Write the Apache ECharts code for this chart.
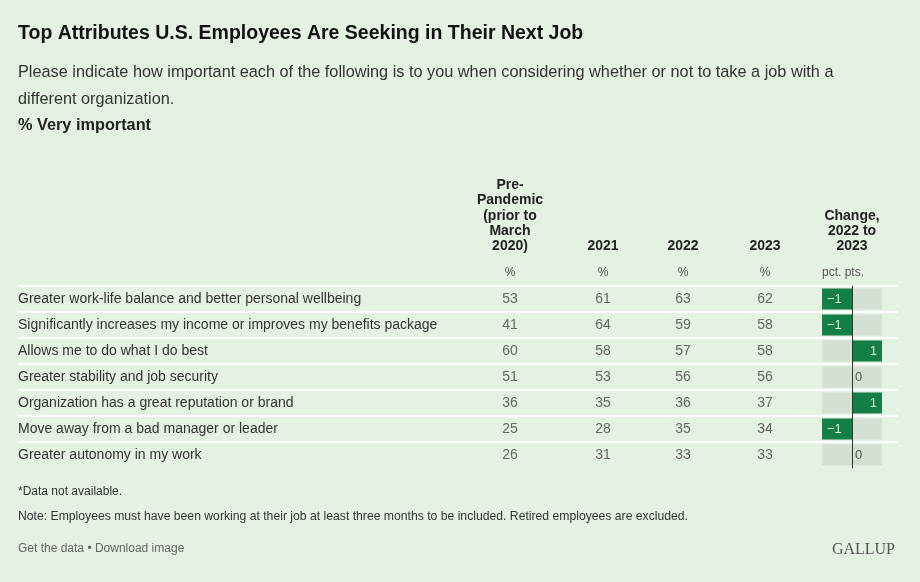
<!DOCTYPE html>
<html>
<head>
<meta charset="utf-8">
<script src="https://cdn.jsdelivr.net/npm/echarts@6/dist/echarts.min.js"></script>
<style>
html, body { margin: 0; padding: 0; background: #e4f2e1; }
#main { width: 920px; height: 582px; }
</style>
</head>
<body>
<div id="main"></div>
<script>
var rows = [
    'Greater work-life balance and better personal wellbeing',
    'Significantly increases my income or improves my benefits package',
    'Allows me to do what I do best',
    'Greater stability and job security',
    'Organization has a great reputation or brand',
    'Move away from a bad manager or leader',
    'Greater autonomy in my work'
];
var columnHeads = ['Pre-\nPandemic\n(prior to\nMarch\n2020)', '2021', '2022', '2023'];
var prePandemic = [53, 41, 60, 51, 36, 25, 26];
var y2021 = [61, 64, 58, 53, 35, 28, 31];
var y2022 = [63, 59, 57, 56, 36, 35, 33];
var y2023 = [62, 58, 58, 56, 37, 34, 33];
var change = [-1, -1, 1, 0, 1, -1, 0];

var dom = document.getElementById('main');
var myChart = echarts.init(dom);

var font = 'Liberation Sans';
var tableTop = 286;
var tableHeight = 182;
var colLeft = [470, 563, 643, 725];
var colValues = [prePandemic, y2021, y2022, y2023];

var headStyle = { fontWeight: 'bold', fontSize: 14, lineHeight: 15.3, color: '#222', fontFamily: font };

var grids = [{ left: 18, right: 22, top: tableTop, height: tableHeight }];
var xAxes = [{ type: 'value', gridIndex: 0, show: false }];
var yAxes = [{
    type: 'category',
    gridIndex: 0,
    data: rows,
    inverse: true,
    axisLine: { show: false },
    axisTick: { show: false },
    axisLabel: { align: 'left', margin: 0, color: '#333', fontSize: 14, fontFamily: font },
    splitLine: { show: true, showMaxLine: false, lineStyle: { color: '#ffffff', width: 2 } }
}];
var series = [];

colValues.forEach(function (vals, i) {
    var g = i + 1;
    grids.push({ left: colLeft[i], top: tableTop, width: 80, height: tableHeight });
    xAxes.push({
        type: 'category',
        gridIndex: g,
        position: 'top',
        data: [columnHeads[i]],
        axisLine: { show: false },
        axisTick: { show: false },
        axisLabel: { formatter: '%', margin: 7, color: '#555', fontSize: 12, fontFamily: font },
        name: columnHeads[i],
        nameLocation: 'middle',
        nameGap: 32,
        nameTextStyle: headStyle
    });
    yAxes.push({ type: 'category', gridIndex: g, data: rows, inverse: true, show: false });
    series.push({
        type: 'scatter',
        xAxisIndex: g,
        yAxisIndex: g,
        symbolSize: 1,
        itemStyle: { color: 'rgba(0,0,0,0)' },
        silent: true,
        label: {
            show: true,
            position: 'inside',
            formatter: function (p) { return p.value[2]; },
            color: '#444',
            fontSize: 14,
            fontFamily: font
        },
        data: vals.map(function (v, j) { return [0, j, v]; })
    });
});

// change column
var cg = grids.length;
grids.push({ left: 822, top: tableTop, width: 60, height: tableHeight });
xAxes.push({ type: 'value', gridIndex: cg, min: -1, max: 1, show: false });
xAxes.push({
    type: 'category',
    gridIndex: cg,
    position: 'top',
    data: ['pct. pts.'],
    axisLine: { show: false },
    axisTick: { show: false },
    axisLabel: { margin: 7, color: '#555', fontSize: 12, fontFamily: font, padding: [0, 18, 0, 0] },
    name: 'Change,\n2022 to\n2023',
    nameLocation: 'middle',
    nameGap: 32,
    nameTextStyle: headStyle
});
yAxes.push({
    type: 'category',
    gridIndex: cg,
    data: rows,
    inverse: true,
    z: 5,
    axisLine: { show: true, onZero: true, lineStyle: { color: '#333', width: 1 } },
    axisTick: { show: false },
    axisLabel: { show: false }
});
series.push({
    type: 'bar',
    xAxisIndex: xAxes.length - 2,
    yAxisIndex: yAxes.length - 1,
    barWidth: 21,
    showBackground: true,
    backgroundStyle: { color: '#d5e0d2' },
    itemStyle: { color: '#137f47' },
    silent: true,
    data: change.map(function (v) {
        var lab;
        if (v < 0) {
            lab = { position: 'insideLeft', distance: 5, color: '#d4f5dc' };
        } else if (v > 0) {
            lab = { position: 'insideRight', distance: 5, color: '#d4f5dc' };
        } else {
            lab = { position: 'insideLeft', distance: 3, color: '#555' };
        }
        lab.show = true;
        lab.fontSize = 13;
        lab.fontFamily = font;
        lab.formatter = function (p) { return p.value < 0 ? '\u2212' + Math.abs(p.value) : String(p.value); };
        return { value: v, label: lab };
    })
});

var option = {
    backgroundColor: '#e4f2e1',
    animation: false,
    title: [
        {
            text: 'Top Attributes U.S. Employees Are Seeking in Their Next Job',
            left: 18, top: 23, padding: 0,
            textStyle: { fontSize: 19.5, fontWeight: 'bold', color: '#111', fontFamily: font, lineHeight: 22 }
        },
        {
            text: 'Please indicate how important each of the following is to you when considering whether or not to take a job with a\ndifferent organization.',
            left: 18, top: 59, padding: 0,
            textStyle: { fontSize: 16.3, fontWeight: 'normal', color: '#333', fontFamily: font, lineHeight: 27 }
        },
        {
            text: '% Very important',
            left: 18, top: 117, padding: 0,
            textStyle: { fontSize: 16.3, fontWeight: 'bold', color: '#222', fontFamily: font, lineHeight: 18 }
        },
        {
            text: '*Data not available.',
            left: 18, top: 485, padding: 0,
            textStyle: { fontSize: 12, fontWeight: 'normal', color: '#333', fontFamily: font, lineHeight: 14 }
        },
        {
            text: 'Note: Employees must have been working at their job at least three months to be included. Retired employees are excluded.',
            left: 18, top: 510, padding: 0,
            textStyle: { fontSize: 12.2, fontWeight: 'normal', color: '#333', fontFamily: font, lineHeight: 14 }
        },
        {
            text: 'Get the data \u2022 Download image',
            left: 18, top: 542, padding: 0,
            textStyle: { fontSize: 12, fontWeight: 'normal', color: '#666', fontFamily: font, lineHeight: 14 }
        },
        {
            text: 'GALLUP',
            right: 25, top: 541, padding: 0,
            textStyle: { fontSize: 16, fontWeight: 'normal', color: '#555', fontFamily: 'Liberation Serif', lineHeight: 18 }
        }
    ],
    grid: grids,
    xAxis: xAxes,
    yAxis: yAxes,
    series: series
};

myChart.setOption(option);
</script>
</body>
</html>
